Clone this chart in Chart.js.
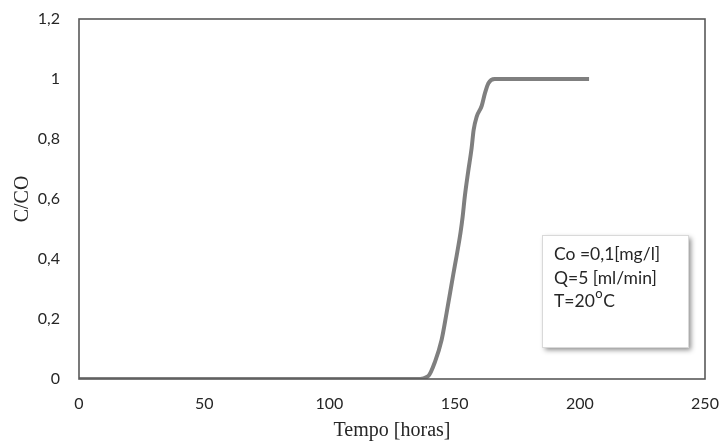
<!DOCTYPE html>
<html>
<head>
<meta charset="utf-8">
<script src="https://cdn.jsdelivr.net/npm/chart.js@4/dist/chart.umd.min.js"></script>
<style>
  html, body { margin: 0; padding: 0; background: #ffffff; }
  #wrap { width: 721px; height: 443px; position: relative; }
</style>
</head>
<body>
<div id="wrap"><canvas id="c" width="721" height="443"></canvas></div>
<script>
// Breakthrough curve: relative concentration C/CO over time (hours)
const tempoHoras = [0, 20, 40, 60, 80, 100, 120, 135, 139.5, 142.2, 144.8, 146.8, 149.5, 150.8, 152.4, 153.2, 154.1, 155.4, 156.8, 157.6, 158.8, 160.8, 162.1, 163.5, 166, 170, 180, 190, 200, 203.7];
const razaoCCo   = [0, 0, 0, 0, 0, 0, 0, 0, 0.01, 0.058, 0.13, 0.22, 0.35, 0.41, 0.49, 0.54, 0.61, 0.69, 0.77, 0.83, 0.874, 0.91, 0.952, 0.986, 1.0, 1.0, 1.0, 1.0, 1.0, 1.0];

const xTicks = [0, 50, 100, 150, 200, 250];
const yTicks = [0, 0.2, 0.4, 0.6, 0.8, 1, 1.2];
const boxLines = ['Co =0,1[mg/l]', 'Q=5 [ml/min]', 'T=20', 'o', 'C'];

const points = tempoHoras.map((t, i) => ({ x: t, y: razaoCCo[i] }));

const fmt = v => String(Math.round(v * 10) / 10).replace('.', ',');

// frame around the plotting area plus the conditions box
const framePlugin = {
  id: 'frame',
  afterDraw(chart) {
    const { ctx, chartArea: a } = chart;
    ctx.save();
    ctx.strokeStyle = '#595959';
    ctx.lineWidth = 1.6;
    ctx.strokeRect(a.left, a.top, a.right - a.left, a.bottom - a.top);

    // conditions box with soft drop shadow
    const bx = 542, by = 235, bw = 146, bh = 112;
    ctx.shadowColor = 'rgba(0,0,0,0.45)';
    ctx.shadowBlur = 5;
    ctx.shadowOffsetX = 3;
    ctx.shadowOffsetY = 3;
    ctx.fillStyle = '#ffffff';
    ctx.fillRect(bx, by, bw, bh);
    ctx.shadowColor = 'transparent';
    ctx.strokeStyle = '#d9d9d9';
    ctx.lineWidth = 1;
    ctx.strokeRect(bx + 0.5, by + 0.5, bw, bh);

    ctx.fillStyle = '#262626';
    ctx.textBaseline = 'middle';
    ctx.textAlign = 'left';
    const big = '17.5px Lato';
    ctx.font = big;
    const tx = 554;
    ctx.fillText(boxLines[0], tx, 254);
    ctx.fillText(boxLines[1], tx, 278);
    ctx.fillText(boxLines[2], tx, 301);
    const w = ctx.measureText(boxLines[2]).width;
    ctx.font = '13px Lato';
    ctx.fillText(boxLines[3], tx + w + 0.5, 294);
    const w2 = ctx.measureText(boxLines[3]).width;
    ctx.font = big;
    ctx.fillText(boxLines[4], tx + w + w2 + 1, 301);
    ctx.restore();
  }
};

new Chart(document.getElementById('c'), {
  type: 'line',
  data: {
    datasets: [{
      data: points,
      borderColor: '#7f7f7f',
      borderWidth: 4,
      pointRadius: 0,
      fill: false,
      cubicInterpolationMode: 'monotone',
      borderCapStyle: 'butt'
    }]
  },
  options: {
    responsive: false,
    animation: false,
    devicePixelRatio: 1,
    layout: { padding: { top: 19, right: 16, left: 0, bottom: 0 } },
    plugins: { legend: { display: false }, tooltip: { enabled: false } },
    scales: {
      x: {
        type: 'linear',
        min: 0, max: 250,
        afterBuildTicks: s => { s.ticks = xTicks.map(v => ({ value: v })); },
        afterFit: s => { s.height = 64; s.paddingLeft = 0; s.paddingRight = 0; },
        grid: { display: false, drawTicks: false },
        border: { display: false },
        ticks: {
          padding: 15,
          color: '#262626',
          font: { family: 'Lato', size: 16 },
          maxRotation: 0,
          callback: v => fmt(v)
        },
        title: {
          display: true,
          text: 'Tempo [horas]',
          color: '#262626',
          font: { family: 'Liberation Serif', size: 20 },
          padding: { top: 0, bottom: 0 }
        }
      },
      y: {
        min: 0, max: 1.2,
        afterBuildTicks: s => { s.ticks = yTicks.map(v => ({ value: v })); },
        afterFit: s => { s.width = 79; s.paddingTop = 0; s.paddingBottom = 0; },
        grid: { display: false, drawTicks: false },
        border: { display: false },
        ticks: {
          padding: 19,
          color: '#262626',
          font: { family: 'Lato', size: 16 },
          callback: v => fmt(v)
        },
        title: {
          display: true,
          text: 'C/CO',
          color: '#262626',
          font: { family: 'Liberation Serif', size: 20 },
          padding: { top: 11, bottom: 0 }
        }
      }
    }
  },
  plugins: [framePlugin]
});
</script>
</body>
</html>
